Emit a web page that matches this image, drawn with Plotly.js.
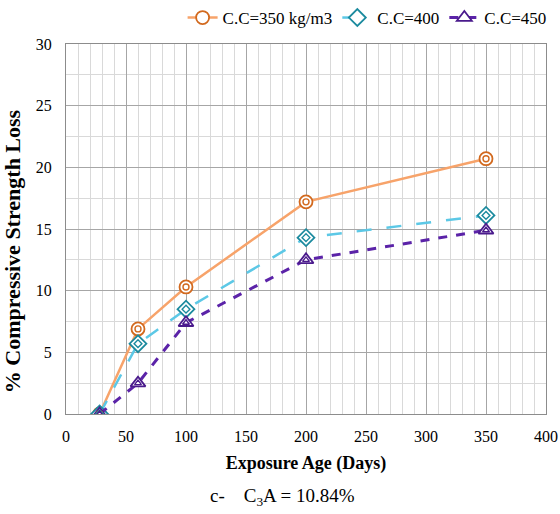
<!DOCTYPE html>
<html><head><meta charset="utf-8">
<script src="https://cdn.plot.ly/plotly-3.0.1.min.js"></script>
<style>html,body{margin:0;padding:0;background:#fff}#chart{width:560px;height:514px}</style>
</head><body><div id="chart"></div>
<script>
var days = [28, 60, 100, 200, 350];
var cc350 = [0, 6.9, 10.3, 17.2, 20.7];
var cc400 = [0, 5.7, 8.5, 14.3, 16.1];
var cc450 = [0, 2.5, 7.4, 12.5, 14.9];
var names = ['C.C=350 kg/m3', 'C.C=400', 'C.C=450'];
var xTicks = [0, 50, 100, 150, 200, 250, 300, 350, 400];
var yTicks = [0, 5, 10, 15, 20, 25, 30];

var F = 'Liberation Serif';
var series = [
  {y: cc350, name: names[0], lc: '#F7A36A', mc: '#D2691E', dash: 'solid', sym: 'circle', w: 2.5},
  {y: cc400, name: names[1], lc: '#5CC8E6', mc: '#1B8A9E', dash: 'longdash', sym: 'diamond', w: 2.5},
  {y: cc450, name: names[2], lc: '#5B23A8', mc: '#4A1A8C', dash: 'dash', sym: 'triangle-up', w: 3}
];
var traces = [];
series.forEach(function (s) {
  traces.push({x: days, y: s.y, name: s.name, mode: 'lines+markers',
    line: {color: s.lc, width: s.w, dash: s.dash},
    marker: {symbol: s.sym, size: 13, color: '#ffffff', line: {color: s.mc, width: 1.8}}});
});
series.forEach(function (s) {
  traces.push({x: days, y: s.y, name: s.name, mode: 'markers', showlegend: false,
    marker: {symbol: s.sym + '-open', size: 6, color: s.mc, line: {color: s.mc, width: 1.4}}});
});
var layout = {
  width: 560, height: 514,
  margin: {l: 66, r: 14, t: 44, b: 100},
  paper_bgcolor: '#fff', plot_bgcolor: '#fff',
  font: {family: F, size: 15, color: '#000'},
  showlegend: true,
  legend: {orientation: 'h', xref: 'container', yref: 'container', x: 0.985, xanchor: 'right', y: 1.0, yanchor: 'top',
           font: {family: F, size: 17, color: '#000'}, traceorder: 'normal', bgcolor: 'rgba(0,0,0,0)', itemwidth: 30},
  xaxis: {range: [0, 400], tickvals: xTicks, ticktext: xTicks.map(String),
          tickfont: {family: F, size: 16, color: '#000'},
          showgrid: true, gridcolor: '#a6a6a6', gridwidth: 1,
          minor: {dtick: 10, showgrid: true, gridcolor: '#d9d9d9', gridwidth: 1},
          showline: true, linecolor: '#8c8c8c', mirror: true, zeroline: false,
          ticks: '', ticklen: 0, ticklabelstandoff: 8,
          title: {text: '<b>Exposure Age (Days)</b>', font: {family: F, size: 18, color: '#000'}, standoff: 12}},
  yaxis: {range: [0, 30], tickvals: yTicks, ticktext: yTicks.map(String),
          tickfont: {family: F, size: 16, color: '#000'},
          showgrid: true, gridcolor: '#a6a6a6', gridwidth: 1,
          minor: {dtick: 2.5, showgrid: true, gridcolor: '#d9d9d9', gridwidth: 1},
          showline: true, linecolor: '#8c8c8c', mirror: true, zeroline: false,
          ticks: '', ticklen: 0, ticklabelstandoff: 10},
  annotations: [
    {xref: 'paper', yref: 'paper', x: 0.45, y: -0.225, xanchor: 'center', yanchor: 'middle',
     showarrow: false, text: 'c-    C<sub>3</sub>A = 10.84%', font: {family: F, size: 19, color: '#000'}},
    {xref: 'paper', yref: 'paper', x: -0.1125, y: 0.44, xanchor: 'center', yanchor: 'middle', textangle: -90,
     showarrow: false, text: '<b>% Compressive Strength Loss</b>', font: {family: F, size: 22, color: '#000'}}
  ]
};
Plotly.newPlot('chart', traces, layout, {displayModeBar: false, staticPlot: true});
</script></body></html>
